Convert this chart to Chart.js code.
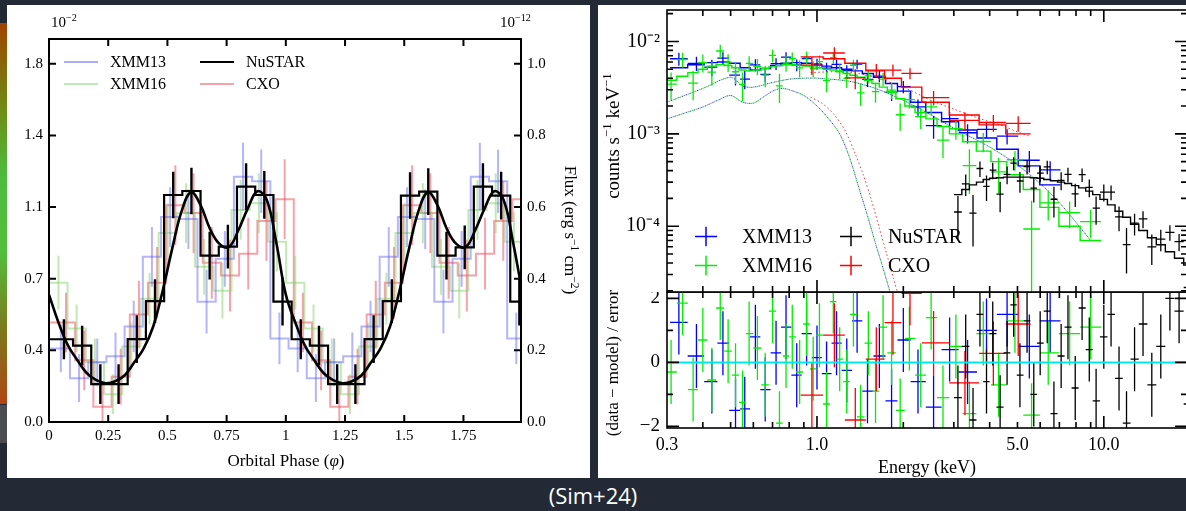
<!DOCTYPE html>
<html lang="en">
<head>
<meta charset="UTF-8" />
<title>Light curve and spectrum</title>
<script src="https://cdn.jsdelivr.net/npm/chart.js"></script>
<style>
  html, body { margin: 0; padding: 0; }
  body { width: 1186px; height: 511px; background: #232a36; position: relative; overflow: hidden;
         font-family: 'Liberation Serif', 'Times New Roman', serif; color: #000; }
  .panel { position: absolute; background: #fff; overflow: hidden; }
  #lc { left: 7px; top: 5px; width: 583px; height: 473px; }
  #sp { left: 598px; top: 5px; width: 588px; height: 473px; }
  canvas { position: absolute; }
  .t { position: absolute; white-space: nowrap; line-height: 1; }
  .t sup { font-size: 0.68em; vertical-align: 0.6em; line-height: 0; }
  .ctr { transform: translate(-50%, -50%); }
  .cw { transform: translate(-50%, -50%) rotate(90deg); }
  .ccw { transform: translate(-50%, -50%) rotate(-90deg); }
  .leg { position: absolute; display: flex; align-items: center; transform: translateY(-50%); white-space: nowrap; }
  .swatch { display: inline-block; width: 34px; height: 2px; margin-right: 12px; }
  #strip { position: absolute; left: 0; top: 23px; width: 7px; height: 381px;
           background: linear-gradient(#a04300, #6f8a14 22%, #4dbb3e 40%, #52be3c 60%, #7c7a1e 80%, #b04412); }
  #strip2 { position: absolute; left: 0; top: 405px; width: 7px; height: 38px; background: #4a4c52; }
  #cite { position: absolute; left: 593px; top: 495px; transform: translate(-50%, -50%);
          color: #fff; font-family: 'Open Sans', sans-serif; font-size: 22px; }
</style>
</head>
<body>
<div id="strip"></div><div id="strip2"></div>

<div id="lc" class="panel">
  <canvas id="lcCanvas" width="583" height="473" style="left:0;top:0"></canvas>
  <div class="t" style="left:44px;top:10px;font-size:15px">10<sup>−2</sup></div>
  <div class="t" style="left:493px;top:10px;font-size:15px">10<sup>−12</sup></div>
  <div class="leg" style="left:57px;top:57px;font-size:16px"><span class="swatch" style="background:rgba(90,90,245,0.5)"></span>XMM13</div>
  <div class="leg" style="left:57px;top:79px;font-size:16px"><span class="swatch" style="background:rgba(120,205,90,0.45)"></span>XMM16</div>
  <div class="leg" style="left:193px;top:57px;font-size:16px"><span class="swatch" style="background:#000;height:2.5px"></span>NuSTAR</div>
  <div class="leg" style="left:193px;top:79px;font-size:16px"><span class="swatch" style="background:rgba(235,70,85,0.5)"></span>CXO</div>
  <div class="t ctr" style="left:279px;top:455px;font-size:17px">Orbital Phase (<i>φ</i>)</div>
  <div class="t cw" style="left:563px;top:225px;font-size:17px">Flux (erg s<sup>−1</sup> cm<sup>−2</sup>)</div>
</div>

<div id="sp" class="panel">
  <canvas id="spTop" width="600" height="288" style="left:0;top:0"></canvas>
  <canvas id="spRes" width="600" height="186" style="left:0;top:287px"></canvas>
  <div class="leg" style="left:97px;top:231px;font-size:20px"><svg width="22" height="20" style="margin-right:25px"><line x1="0" y1="10" x2="22" y2="10" stroke="#0000ff" stroke-width="1.5"/><line x1="11" y1="0" x2="11" y2="20" stroke="#0000ff" stroke-width="1.5"/></svg>XMM13</div>
  <div class="leg" style="left:97px;top:260px;font-size:20px"><svg width="22" height="20" style="margin-right:25px"><line x1="0" y1="10" x2="22" y2="10" stroke="#00ee00" stroke-width="1.5"/><line x1="11" y1="0" x2="11" y2="20" stroke="#00ee00" stroke-width="1.5"/></svg>XMM16</div>
  <div class="leg" style="left:242px;top:231px;font-size:20px"><svg width="22" height="20" style="margin-right:26px"><line x1="0" y1="10" x2="22" y2="10" stroke="#000" stroke-width="1.5"/><line x1="11" y1="0" x2="11" y2="20" stroke="#000" stroke-width="1.5"/></svg>NuSTAR</div>
  <div class="leg" style="left:242px;top:260px;font-size:20px"><svg width="22" height="20" style="margin-right:26px"><line x1="0" y1="10" x2="22" y2="10" stroke="#ff0000" stroke-width="1.5"/><line x1="11" y1="0" x2="11" y2="20" stroke="#ff0000" stroke-width="1.5"/></svg>CXO</div>
  <div class="t ccw" style="left:14px;top:131px;font-size:19px">counts s<sup>−1</sup> keV<sup>−1</sup></div>
  <div class="t ccw" style="left:14px;top:358px;font-size:17px">(data − model) / error</div>
  <div class="t ctr" style="left:329px;top:462px;font-size:18px">Energy (keV)</div>
</div>

<div id="cite">(Sim+24)</div>

<script>
// ---------- light curve (left) ----------
const binW = 1 / 13;
const nustarPhase = Array.from({ length: 26 }, (_, k) => 0.063 + k * binW);
const xmm13Phase = Array.from({ length: 26 }, (_, k) => 0.050 + k * binW);
const xmm16Phase = Array.from({ length: 26 }, (_, k) => 0.040 + k * binW);
const cxoPhase = Array.from({ length: 26 }, (_, k) => 0.072 + k * binW);

const nustarRate = [0.416, 0.384, 0.19, 0.19, 0.417, 0.608, 1.141, 1.161, 0.836, 0.881, 1.183, 1.141, 0.605,
                    0.416, 0.384, 0.19, 0.19, 0.417, 0.608, 1.138, 1.158, 0.836, 0.878, 1.183, 1.138, 0.605];
const nustarErr = [0.10, 0.10, 0.10, 0.10, 0.12, 0.11, 0.117, 0.117, 0.12, 0.11, 0.117, 0.12, 0.12,
                   0.10, 0.10, 0.10, 0.10, 0.12, 0.11, 0.117, 0.117, 0.12, 0.11, 0.117, 0.12, 0.12];
const xmm13Rate = [0.37, 0.22, 0.30, 0.33, 0.48, 0.83, 1.03, 1.02, 0.605, 0.82, 1.233, 1.21, 0.42,
                   0.37, 0.22, 0.30, 0.33, 0.48, 0.83, 1.03, 1.02, 0.605, 0.82, 1.233, 1.21, 0.42];
const xmm13Err = [0.12, 0.12, 0.12, 0.12, 0.13, 0.15, 0.15, 0.15, 0.16, 0.14, 0.17, 0.16, 0.13,
                  0.12, 0.12, 0.12, 0.12, 0.13, 0.15, 0.15, 0.15, 0.16, 0.14, 0.17, 0.16, 0.13];
const xmm16Rate = [0.70, 0.47, 0.30, 0.14, 0.38, 0.62, 0.95, 1.05, 0.78, 0.66, 1.066, 1.10, 0.906,
                   0.70, 0.47, 0.30, 0.14, 0.38, 0.62, 0.95, 1.05, 0.78, 0.66, 1.066, 1.10, 0.906];
const xmm16Err = [0.135, 0.12, 0.12, 0.10, 0.12, 0.13, 0.15, 0.15, 0.14, 0.14, 0.15, 0.15, 0.15,
                  0.135, 0.12, 0.12, 0.10, 0.12, 0.13, 0.15, 0.15, 0.14, 0.14, 0.15, 0.15, 0.15];
const cxoRate = [0.50, 0.31, 0.077, 0.228, 0.54, 0.70, 1.09, 1.05, 0.80, 0.736, 0.846, 1.01, 1.12,
                 0.50, 0.31, 0.077, 0.228, 0.54, 0.70, 1.09, 1.05, 0.80, 0.736, 0.846, 1.01, 1.12];
const cxoErr = [0.15, 0.15, 0.12, 0.14, 0.17, 0.18, 0.20, 0.20, 0.18, 0.18, 0.18, 0.20, 0.20,
                0.15, 0.15, 0.12, 0.14, 0.17, 0.18, 0.20, 0.20, 0.18, 0.18, 0.18, 0.20, 0.20];

// smooth model, sampled every 0.04 in phase
const modelPhase = Array.from({ length: 51 }, (_, k) => k * 0.04);
const modelRate = [0.64, 0.50, 0.385, 0.31, 0.245, 0.21, 0.195, 0.205, 0.235, 0.30, 0.37, 0.48, 0.66,
                   0.87, 1.06, 1.155, 1.09, 0.97, 0.895, 0.88, 0.965, 1.075, 1.16, 1.115, 0.90,
                   0.64, 0.50, 0.385, 0.31, 0.245, 0.21, 0.195, 0.205, 0.235, 0.30, 0.37, 0.48, 0.66,
                   0.87, 1.06, 1.155, 1.09, 0.97, 0.895, 0.88, 0.965, 1.075, 1.16, 1.115, 0.90, 0.64];

const lcXTicks = [0, 0.25, 0.5, 0.75, 1, 1.25, 1.5, 1.75];
const lcYTicks = [0, 0.36, 0.72, 1.08, 1.44, 1.8];
const fluxTicks = [0, 0.2, 0.4, 0.6, 0.8, 1.0];

// ---------- spectrum (right) ----------
const eXmm13 = [0.33, 0.38, 0.43, 0.47, 0.52, 0.56, 0.61, 0.66, 0.72, 0.78, 0.85, 0.92, 1.0, 1.08, 1.17,
                1.27, 1.38, 1.5, 1.65, 1.82, 2.0, 2.25, 2.55, 2.9, 3.35, 3.9, 4.6, 5.5, 6.5];
const mXmm13 = [5.2e-3, 5.6e-3, 5.9e-3, 6.0e-3, 5.8e-3, 5.2e-3, 4.9e-3, 5.1e-3, 5.5e-3, 5.8e-3, 5.9e-3, 5.8e-3,
                5.6e-3, 5.4e-3, 5.2e-3, 5.0e-3, 4.8e-3, 4.5e-3, 4.1e-3, 3.5e-3, 2.9e-3, 2.2e-3, 1.7e-3,
                1.35e-3, 1.1e-3, 9.0e-4, 6.8e-4, 4.5e-4, 2.8e-4];
const rXmm13 = [1.25, 0.2, -0.6, 0.6, -1.5, -1.45, 0.8, -0.85, 0.3, 1.1, -0.4, 0.9, 0.15, -0.35, 0.6,
                -0.25, 1.3, -0.9, 0.2, -1.2, 0.7, -0.6, -1.4, 0.4, -0.3, 1.0, 1.5, 0.5, 1.3];
const fXmm13 = [0.2, 0.18, 0.18, 0.17, 0.17, 0.17, 0.17, 0.16, 0.15, 0.15, 0.14, 0.14, 0.14, 0.14, 0.14,
                0.14, 0.14, 0.15, 0.15, 0.16, 0.17, 0.18, 0.2, 0.2, 0.22, 0.24, 0.26, 0.3, 0.35];

const eXmm16 = [0.31, 0.34, 0.37, 0.40, 0.43, 0.46, 0.49, 0.52, 0.55, 0.58, 0.62, 0.66, 0.70, 0.74, 0.78,
                0.82, 0.87, 0.92, 0.97, 1.02, 1.08, 1.14, 1.2, 1.27, 1.34, 1.42, 1.51, 1.6, 1.7, 1.82,
                1.95, 2.1, 2.3, 2.5, 2.75, 3.05, 3.4, 3.8, 4.3, 4.9, 5.6, 6.4, 7.6, 9.0];
const mXmm16 = [3.8e-3, 4.2e-3, 4.6e-3, 5.0e-3, 5.4e-3, 5.6e-3, 5.5e-3, 5.2e-3, 4.9e-3, 4.8e-3, 4.9e-3, 5.1e-3,
                5.3e-3, 5.5e-3, 5.6e-3, 5.6e-3, 5.5e-3, 5.4e-3, 5.3e-3, 5.2e-3, 5.0e-3, 4.9e-3, 4.7e-3,
                4.5e-3, 4.3e-3, 4.1e-3, 3.8e-3, 3.5e-3, 3.2e-3, 2.8e-3, 2.4e-3, 2.0e-3, 1.7e-3, 1.45e-3,
                1.2e-3, 1.0e-3, 8.2e-4, 6.5e-4, 5.0e-4, 3.6e-4, 2.5e-4, 1.6e-4, 1.0e-4, 7.0e-5];
const rXmm16 = [-0.3, 1.85, -0.85, 0.7, -0.55, 1.7, 0.35, -0.4, -1.25, 0.9, 0.45, -0.7, 1.6, -1.9, 0.2,
                0.8, -0.3, 1.2, -0.2, 0.85, -1.3, 1.9, 0.1, -0.6, 1.5, -1.7, 0.6, -0.9, 1.1, 0.3,
                -1.5, 0.75, -0.4, 1.4, -1.1, 0.5, -1.6, 0.9, -0.7, 1.3, -1.65, 0.3, 0.9, 1.1];
const fXmm16 = [0.3, 0.28, 0.27, 0.26, 0.25, 0.24, 0.24, 0.24, 0.24, 0.23, 0.22, 0.22, 0.21, 0.21, 0.2,
                0.2, 0.2, 0.2, 0.19, 0.19, 0.19, 0.19, 0.19, 0.19, 0.19, 0.19, 0.19, 0.2, 0.2, 0.21,
                0.22, 0.23, 0.24, 0.25, 0.26, 0.27, 0.28, 0.3, 0.32, 0.35, 0.38, 0.4, 0.45, 0.55];

const eCxo = [0.96, 1.15, 1.36, 1.61, 1.84, 2.11, 2.55, 3.28, 4.12, 5.03];
const mCxo = [6.8e-3, 6.5e-3, 5.8e-3, 4.8e-3, 4.0e-3, 3.2e-3, 2.2e-3, 1.6e-3, 1.25e-3, 1.0e-3];
const rCxo = [-1.02, 0.85, -1.8, 0.1, 1.24, 2.16, 0.61, -0.64, 0.28, 1.2];
const fCxo = [0.18, 0.18, 0.17, 0.17, 0.18, 0.19, 0.2, 0.2, 0.22, 0.25];

const eNustar = [3.1, 3.3, 3.5, 3.7, 3.9, 4.1, 4.35, 4.6, 4.85, 5.1, 5.4, 5.7, 6.0, 6.35, 6.7, 7.1, 7.5,
                 7.95, 8.4, 8.9, 9.4, 10.0, 10.6, 11.3, 12.0, 12.8, 13.7, 14.7, 15.8, 17.0, 18.3, 19.7, 21.5];
const mNustar = [2.2e-4, 2.5e-4, 2.8e-4, 3.0e-4, 3.2e-4, 3.3e-4, 3.35e-4, 3.4e-4, 3.4e-4, 3.4e-4, 3.4e-4,
                 3.35e-4, 3.3e-4, 3.2e-4, 3.1e-4, 3.0e-4, 2.9e-4, 2.75e-4, 2.6e-4, 2.4e-4, 2.2e-4, 1.95e-4,
                 1.7e-4, 1.45e-4, 1.25e-4, 1.05e-4, 9.0e-5, 7.5e-5, 6.3e-5, 5.3e-5, 4.5e-5, 3.8e-5, 3.1e-5];
const rNustar = [-1.1, 0.5, -1.8, 1.5, -0.6, 0.9, -1.4, 0.3, 1.8, -0.4, 1.3, -1.0, 0.6, 1.6, -1.6, 0.2, 1.1,
                 -0.8, 1.7, 0.4, -1.2, 0.8, 1.5, -0.5, -1.9, 0.1, 1.2, -0.7, 0.5, 2.0, 1.6, -1.3, 0.9];
const fNustar = [0.32, 0.3, 0.28, 0.27, 0.26, 0.25, 0.24, 0.23, 0.23, 0.23, 0.23, 0.23, 0.23, 0.23, 0.23, 0.23,
                 0.23, 0.23, 0.23, 0.24, 0.24, 0.25, 0.25, 0.26, 0.26, 0.27, 0.28, 0.29, 0.3, 0.31, 0.32, 0.33, 0.35];

// model components (dotted)
const eThermXmm = [0.3, 0.35, 0.4, 0.45, 0.5, 0.55, 0.6, 0.65, 0.7, 0.75, 0.8, 0.9, 1.0, 1.1, 1.2, 1.3,
                   1.4, 1.5, 1.6, 1.7, 1.8, 1.9];
const thermXmm = [1.45e-3, 1.7e-3, 1.95e-3, 2.3e-3, 2.6e-3, 2.2e-3, 2.15e-3, 2.5e-3, 2.9e-3, 3.1e-3, 3.0e-3,
                  2.6e-3, 2.0e-3, 1.45e-3, 1.0e-3, 5.5e-4, 2.6e-4, 1.3e-4, 6.5e-5, 3.5e-5, 1.9e-5, 1.0e-5];
const ePlXmm = [0.3, 0.4, 0.5, 0.55, 0.6, 0.7, 0.8, 0.9, 1.0, 1.3, 1.6, 2.0, 2.5, 3.0, 4.0, 5.0, 6.0, 7.0, 8.0, 9.0];
const plXmm = [2.2e-3, 3.1e-3, 4.1e-3, 3.3e-3, 3.2e-3, 3.6e-3, 3.9e-3, 4.0e-3, 4.0e-3, 3.7e-3, 3.1e-3,
               2.3e-3, 1.6e-3, 1.15e-3, 7.2e-4, 4.6e-4, 2.9e-4, 1.8e-4, 1.1e-4, 7.0e-5];
const eThermCxo = [0.95, 1.05, 1.15, 1.25, 1.35, 1.45, 1.55, 1.65, 1.75, 1.85, 1.95];
const thermCxo = [2.5e-3, 2.1e-3, 1.6e-3, 1.1e-3, 6.4e-4, 3.6e-4, 1.9e-4, 9.5e-5, 5.0e-5, 2.7e-5, 1.5e-5];
const ePlCxo = [0.95, 1.2, 1.5, 2.0, 2.5, 3.0, 3.5, 4.0, 4.5, 5.0, 5.5];
const plCxo = [4.6e-3, 4.7e-3, 4.3e-3, 3.2e-3, 2.3e-3, 1.85e-3, 1.55e-3, 1.35e-3, 1.2e-3, 1.05e-3, 9.5e-4];

const specXLabels = [0.3, 1, 5, 10];
const specYLabels = [1e-2, 1e-3, 1e-4];
const specYNames = ['10\u207B\u00B2', '10\u207B\u00B3', '10\u207B\u2074'];
const resYLabels = [-2, 0, 2];

// ---------- helpers ----------
Chart.defaults.font.family = "'Liberation Serif', 'Times New Roman', serif";
Chart.defaults.color = '#000';

const noGrid = { display: false, drawTicks: false };

// fixed axis size, and no extra room reserved for edge labels
function fitWidth(w) {
  return s => { s.width = w; s.paddingTop = 0; s.paddingBottom = 0; s.paddingLeft = 0; s.paddingRight = 0; };
}
function fitHeight(h) {
  return s => { s.height = h; s.paddingTop = 0; s.paddingBottom = 0; s.paddingLeft = 0; s.paddingRight = 0; };
}

function histo(centers, vals) {
  const pts = centers.map((c, i) => ({ x: c, y: vals[i] }));
  pts.unshift({ x: 0, y: vals[0] });
  pts.push({ x: 2, y: vals[vals.length - 1] });
  return pts;
}
function vbars(centers, vals, errs) {
  return centers.map((c, i) => ({ x: c, y: vals[i], ylo: vals[i] - errs[i], yhi: vals[i] + errs[i] }));
}
function edges(E) {
  const lo = [], hi = [];
  E.forEach((e, i) => {
    const left = i > 0 ? Math.sqrt(E[i - 1] * e) : e * e / Math.sqrt(e * E[i + 1]);
    const right = i < E.length - 1 ? Math.sqrt(e * E[i + 1]) : e * e / Math.sqrt(E[i - 1] * e);
    lo.push(left); hi.push(right);
  });
  return { lo, hi };
}
function crosses(E, Y, Yerr) {
  const { lo, hi } = edges(E);
  return E.map((e, i) => ({ x: e, y: Y[i], xlo: lo[i], xhi: hi[i], ylo: Y[i] - Yerr[i], yhi: Y[i] + Yerr[i] }));
}
function stepLine(E, M) {
  const { lo, hi } = edges(E);
  const pts = [];
  E.forEach((e, i) => { pts.push({ x: lo[i], y: M[i] }, { x: hi[i], y: M[i] }); });
  return pts;
}
function xy(X, Y) { return X.map((x, i) => ({ x, y: Y[i] })); }

// error bars / crosses drawn through the chart scales
const errBars = {
  id: 'errBars',
  afterDatasetDraw(chart, args) {
    const ds = chart.data.datasets[args.index];
    if (!ds.bars) return;
    const xs = chart.scales.x, ys = chart.scales.y, a = chart.chartArea, ctx = chart.ctx;
    const floor = v => ys.type === 'logarithmic' ? Math.max(v, ys.min * 1e-3) : v;
    ctx.save();
    ctx.beginPath();
    ctx.rect(a.left, a.top, a.right - a.left, a.bottom - a.top);
    ctx.clip();
    ctx.strokeStyle = ds.barColor || ds.borderColor;
    ctx.lineWidth = ds.barWidth || 1.5;
    ctx.beginPath();
    ds.bars.forEach(b => {
      const px = xs.getPixelForValue(b.x), py = ys.getPixelForValue(b.y);
      if (b.ylo !== undefined) {
        ctx.moveTo(px, ys.getPixelForValue(floor(b.ylo)));
        ctx.lineTo(px, ys.getPixelForValue(b.yhi));
      }
      if (b.xlo !== undefined) {
        ctx.moveTo(xs.getPixelForValue(b.xlo), py);
        ctx.lineTo(xs.getPixelForValue(b.xhi), py);
      }
    });
    ctx.stroke();
    ctx.restore();
  }
};

// frame + inward tick marks
function frameTicks(marks, lw) {
  return {
    id: 'frameTicks',
    afterDatasetsDraw(chart) {
      const a = chart.chartArea, ctx = chart.ctx;
      ctx.save();
      ctx.strokeStyle = '#000';
      ctx.lineWidth = lw;
      ctx.strokeRect(a.left, a.top, a.right - a.left, a.bottom - a.top);
      marks.forEach(m => {
        const s = chart.scales[m.scale];
        ctx.beginPath();
        m.values.forEach(v => {
          const p = s.getPixelForValue(v);
          m.sides.forEach(side => {
            if (side === 'bottom') { ctx.moveTo(p, a.bottom); ctx.lineTo(p, a.bottom - m.len); }
            if (side === 'top') { ctx.moveTo(p, a.top); ctx.lineTo(p, a.top + m.len); }
            if (side === 'left') { ctx.moveTo(a.left, p); ctx.lineTo(a.left + m.len, p); }
            if (side === 'right') { ctx.moveTo(a.right, p); ctx.lineTo(a.right - m.len, p); }
          });
        });
        ctx.stroke();
      });
      ctx.restore();
    }
  };
}

const commonOpts = {
  responsive: false,
  animation: false,
  events: [],
  plugins: { legend: { display: false }, tooltip: { enabled: false } }
};

// ---------- left chart ----------
const cBlue = 'rgba(90,90,245,0.45)', cGreen = 'rgba(120,205,90,0.45)', cRed = 'rgba(235,70,85,0.5)';

new Chart(document.getElementById('lcCanvas'), {
  type: 'line',
  data: {
    datasets: [
      { label: 'CXO', data: histo(cxoPhase, cxoRate), bars: vbars(cxoPhase, cxoRate, cxoErr),
        stepped: 'middle', borderColor: cRed, borderWidth: 2, barWidth: 2, pointRadius: 0, order: 5 },
      { label: 'XMM16', data: histo(xmm16Phase, xmm16Rate), bars: vbars(xmm16Phase, xmm16Rate, xmm16Err),
        stepped: 'middle', borderColor: cGreen, borderWidth: 2, barWidth: 2, pointRadius: 0, order: 4 },
      { label: 'XMM13', data: histo(xmm13Phase, xmm13Rate), bars: vbars(xmm13Phase, xmm13Rate, xmm13Err),
        stepped: 'middle', borderColor: cBlue, borderWidth: 2, barWidth: 2, pointRadius: 0, order: 3 },
      { label: 'NuSTAR', data: histo(nustarPhase, nustarRate), bars: vbars(nustarPhase, nustarRate, nustarErr),
        stepped: 'middle', borderColor: '#000', borderWidth: 2.2, barWidth: 2.4, pointRadius: 0, order: 2 },
      { label: 'model', data: xy(modelPhase, modelRate), borderColor: '#000', borderWidth: 2.6,
        tension: 0.4, pointRadius: 0, order: 1 }
    ]
  },
  options: {
    ...commonOpts,
    layout: { padding: { top: 34, left: 0, right: 0, bottom: 0 } },
    scales: {
      x: { type: 'linear', min: 0, max: 1.993, grid: noGrid, border: { display: false },
           ticks: { font: { size: 15 }, padding: 5, maxRotation: 0, autoSkip: false, callback: v => String(v) },
           afterBuildTicks: s => { s.ticks = lcXTicks.map(value => ({ value })); },
           afterFit: fitHeight(56) },
      y: { type: 'linear', position: 'left', min: 0, max: 1.925, grid: noGrid, border: { display: false },
           ticks: { font: { size: 15 }, padding: 6, callback: v => v.toFixed(1) },
           afterBuildTicks: s => { s.ticks = lcYTicks.map(value => ({ value })); },
           afterFit: fitWidth(42) },
      y2: { type: 'linear', position: 'right', min: 0, max: 1.925 / 1.8, grid: noGrid, border: { display: false },
            ticks: { font: { size: 15 }, padding: 6, callback: v => v.toFixed(1) },
            afterBuildTicks: s => { s.ticks = fluxTicks.map(value => ({ value })); },
            afterFit: fitWidth(69) }
    }
  },
  plugins: [errBars, frameTicks([
    { scale: 'x', values: lcXTicks.slice(1), sides: ['bottom', 'top'], len: 7 },
    { scale: 'y', values: lcYTicks.slice(1), sides: ['left'], len: 7 },
    { scale: 'y2', values: fluxTicks.slice(1), sides: ['right'], len: 7 }
  ], 2)]
});

// ---------- right charts ----------
const xMinor = [0.4, 0.5, 0.6, 0.7, 0.8, 0.9, 2, 3, 4, 5, 6, 7, 8, 9];
const xMajor = [1, 10];
const yMinor = [];
[1e-5, 1e-4, 1e-3, 1e-2].forEach(d => { for (let m = 2; m <= 9; m++) yMinor.push(m * d); });

const blue = '#0000ff', green = '#00ee00', red = '#ff0000';
const cnt = (M, R, F) => M.map((m, i) => m * (1 + R[i] * F[i]));
const cntErr = (M, F) => M.map((m, i) => m * F[i]);
const ones = n => new Array(n).fill(1);

const c13 = cnt(mXmm13, rXmm13, fXmm13), c16 = cnt(mXmm16, rXmm16, fXmm16);
const cCx = cnt(mCxo, rCxo, fCxo), cNu = cnt(mNustar, rNustar, fNustar);

function dataSet(E, C, Cerr, color, order) {
  return { data: xy(E, C), bars: crosses(E, C, Cerr), showLine: false, pointRadius: 0,
           borderColor: color, barWidth: 1.3, order };
}
function modelSet(E, M, color, order) {
  return { data: stepLine(E, M), pointRadius: 0, borderColor: color, borderWidth: 1.4, order };
}
function dotted(E, V, color, offset, order) {
  return { data: xy(E, V), pointRadius: 0, borderColor: color, borderWidth: 1, borderDash: [1.5, 2.5],
           borderDashOffset: offset, tension: 0.3, order };
}

new Chart(document.getElementById('spTop'), {
  type: 'line',
  data: {
    datasets: [
      dotted(eThermXmm, thermXmm, '#3c3cff', 0, 14),
      dotted(eThermXmm, thermXmm, '#22dd22', 2, 13),
      dotted(ePlXmm, plXmm, '#3c3cff', 0, 12),
      dotted(ePlXmm, plXmm, '#22dd22', 2, 11),
      dotted(eThermCxo, thermCxo, '#ff3030', 0, 10),
      dotted(ePlCxo, plCxo, '#ff3030', 0, 10),
      dataSet(eXmm13, c13, cntErr(mXmm13, fXmm13), blue, 9),
      modelSet(eXmm13, mXmm13, blue, 8),
      dataSet(eXmm16, c16, cntErr(mXmm16, fXmm16), green, 7),
      modelSet(eXmm16, mXmm16, green, 6),
      dataSet(eCxo, cCx, cntErr(mCxo, fCxo), red, 5),
      modelSet(eCxo, mCxo, red, 4),
      dataSet(eNustar, cNu, cntErr(mNustar, fNustar), '#000', 3),
      modelSet(eNustar, mNustar, '#000', 2)
    ]
  },
  options: {
    ...commonOpts,
    layout: { padding: { top: 5, left: 0, right: 11, bottom: 1 } },
    scales: {
      x: { type: 'logarithmic', min: 0.3, max: 19.5, display: false },
      y: { type: 'logarithmic', position: 'left', min: 1.94e-5, max: 0.0219, grid: noGrid, border: { display: false },
           ticks: { font: { size: 20 }, padding: 7, callback: v => specYNames[specYLabels.indexOf(v)] || '' },
           afterBuildTicks: s => { s.ticks = specYLabels.map(value => ({ value })); },
           afterFit: fitWidth(69) }
    }
  },
  plugins: [errBars, frameTicks([
    { scale: 'x', values: xMinor, sides: ['bottom', 'top'], len: 6 },
    { scale: 'x', values: xMajor, sides: ['bottom', 'top'], len: 12 },
    { scale: 'y', values: yMinor, sides: ['left', 'right'], len: 6 },
    { scale: 'y', values: specYLabels, sides: ['left', 'right'], len: 12 }
  ], 1.6)]
});

new Chart(document.getElementById('spRes'), {
  type: 'line',
  data: {
    datasets: [
      { data: xy(eXmm13, rXmm13), bars: crosses(eXmm13, rXmm13, ones(rXmm13.length)), showLine: false,
        pointRadius: 0, borderColor: blue, barWidth: 1.3, order: 5 },
      { data: xy(eXmm16, rXmm16), bars: crosses(eXmm16, rXmm16, ones(rXmm16.length)), showLine: false,
        pointRadius: 0, borderColor: green, barWidth: 1.3, order: 4 },
      { data: xy(eCxo, rCxo), bars: crosses(eCxo, rCxo, ones(rCxo.length)), showLine: false,
        pointRadius: 0, borderColor: red, barWidth: 1.3, order: 3 },
      { data: xy(eNustar, rNustar), bars: crosses(eNustar, rNustar, ones(rNustar.length)), showLine: false,
        pointRadius: 0, borderColor: '#000', barWidth: 1.3, order: 2 },
      { data: [{ x: 0.3, y: 0 }, { x: 19.5, y: 0 }], pointRadius: 0, borderColor: '#00e8f0', borderWidth: 2, order: 1 }
    ]
  },
  options: {
    ...commonOpts,
    layout: { padding: { top: 0, left: 0, right: 11, bottom: 0 } },
    scales: {
      x: { type: 'logarithmic', min: 0.3, max: 19.5, grid: noGrid, border: { display: false },
           ticks: { font: { size: 18 }, padding: 6, maxRotation: 0, autoSkip: false, callback: v => Number(v).toFixed(1) },
           afterBuildTicks: s => { s.ticks = specXLabels.map(value => ({ value })); },
           afterFit: fitHeight(50) },
      y: { type: 'linear', position: 'left', min: -2.05, max: 2.2, grid: noGrid, border: { display: false },
           ticks: { font: { size: 19 }, padding: 7, callback: v => (v < 0 ? '\u2212' + Math.abs(v) : String(v)) },
           afterBuildTicks: s => { s.ticks = resYLabels.map(value => ({ value })); },
           afterFit: fitWidth(69) }
    }
  },
  plugins: [errBars, frameTicks([
    { scale: 'x', values: xMinor, sides: ['bottom', 'top'], len: 6 },
    { scale: 'x', values: xMajor, sides: ['bottom', 'top'], len: 12 },
    { scale: 'y', values: [-1, 1], sides: ['left', 'right'], len: 6 },
    { scale: 'y', values: resYLabels, sides: ['left', 'right'], len: 12 }
  ], 1.6)]
});
</script>
</body>
</html>
